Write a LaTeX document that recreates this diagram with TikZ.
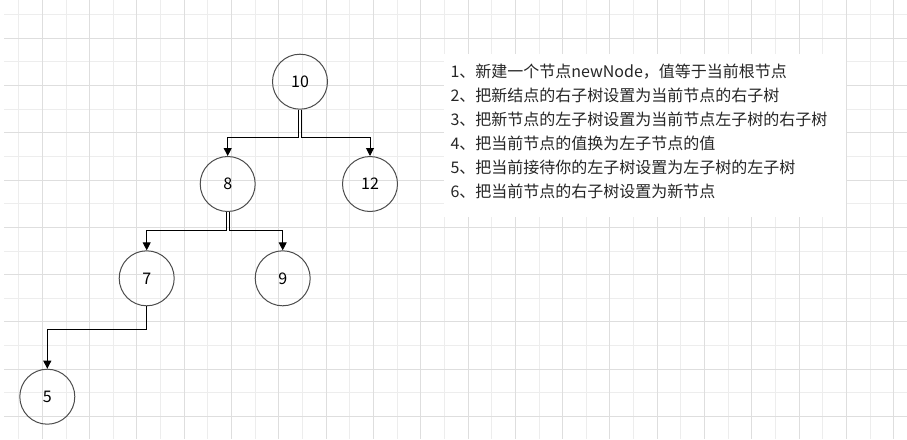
\documentclass[tikz,border=0pt]{standalone}
\usepackage{fontspec}
\newfontfamily\cjk{Noto Sans CJK SC}
\usetikzlibrary{arrows.meta}

\begin{document}
\begin{tikzpicture}[x=1pt, y=-1pt, line width=1pt,
  every node/.style={circle, draw=black!70, minimum size=55pt, inner sep=0pt, font=\cjk\fontsize{16}{16}\selectfont},
  txt/.style={rectangle, draw=none, minimum size=0pt, anchor=west, inner sep=0pt, text=black!85},
  edge/.style={draw=black, -{Triangle[width=8pt,length=8pt]}}]
  \useasboundingbox (0,0) rectangle (907,439);
  % grid paper
  \foreach \k in {0,...,37} {
    \draw[black!7] (18.7+23.65*\k,0) -- (18.7+23.65*\k,439);
  }
  \foreach \k in {0,...,17} {
    \draw[black!7] (4,14.5+23.65*\k) -- (907,14.5+23.65*\k);
  }
  \foreach \k in {1,3,...,37} {
    \draw[black!13] (18.7+23.65*\k,0) -- (18.7+23.65*\k,439);
  }
  \foreach \k in {1,3,...,17} {
    \draw[black!13] (4,14.5+23.65*\k) -- (907,14.5+23.65*\k);
  }
  % tree
  \node (n10) at (300,81.7) {10};
  \node (n8) at (227.7,184) {8};
  \node (n12) at (370,184) {12};
  \node (n7) at (146.7,278.3) {7};
  \node (n9) at (282.7,278.3) {9};
  \node (n5) at (47.3,396.7) {5};
  \draw[edge] ([xshift=-1.3pt]n10.south) -- ++(0,27.6) -| (n8.north);
  \draw[edge] ([xshift=1.3pt]n10.south) -- ++(0,27.6) -| (n12.north);
  \draw[edge] ([xshift=-1.3pt]n8.south) -- ++(0,18.3) -| (n7.north);
  \draw[edge] ([xshift=1.3pt]n8.south) -- ++(0,18.3) -| (n9.north);
  \draw[edge] (n7.south) -- ++(0,23.3) -| (n5.north);
  % steps
  \fill[white] (444,54) rectangle (846,217);
  \foreach \i/\line in {
    1/{1、新建一个节点newNode，值等于当前根节点},
    2/{2、把新结点的右子树设置为当前节点的右子树},
    3/{3、把新节点的左子树设置为当前节点左子树的右子树},
    4/{4、把当前节点的值换为左子节点的值},
    5/{5、把当前接待你的左子树设置为左子树的左子树},
    6/{6、把当前节点的右子树设置为新节点}} {
    \node[txt] (t\i) at (450,72+23.9*\i-23.9) {\line};
  }
\end{tikzpicture}
\end{document}
